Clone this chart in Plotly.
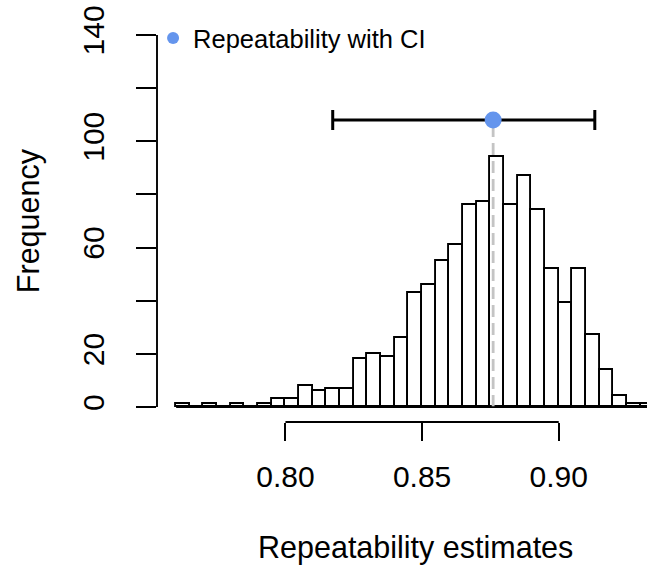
import plotly.graph_objects as go

# ---- data ----
bin_left_edges = [0.760, 0.765, 0.770, 0.775, 0.780, 0.785, 0.790, 0.795, 0.800, 0.805,
                  0.810, 0.815, 0.820, 0.825, 0.830, 0.835, 0.840, 0.845, 0.850, 0.855,
                  0.860, 0.865, 0.870, 0.875, 0.880, 0.885, 0.890, 0.895, 0.900, 0.905,
                  0.910, 0.915, 0.920, 0.925, 0.930]
bin_width = 0.005
counts = [1, 0, 1, 0, 1, 0, 1, 3, 3, 8,
          6, 7, 7, 18, 20, 19, 26, 43, 46, 55,
          61, 76, 77, 94, 76, 87, 74, 52, 39, 52,
          27, 14, 4, 1, 1]

estimate = 0.876
ci_lower = 0.8173
ci_upper = 0.9132
point_height = 108

x_tick_values = [0.80, 0.85, 0.90]
x_tick_labels = ["0.80", "0.85", "0.90"]
y_tick_values = [0, 20, 40, 60, 80, 100, 120, 140]
y_tick_labels = ["0", "20", "", "60", "", "100", "", "140"]

x_title = "Repeatability estimates"
y_title = "Frequency"
legend_label = "Repeatability with CI"

# ---- figure ----
FONT = "Liberation Sans, Arial, Helvetica, sans-serif"
bin_centers = [e + bin_width / 2 for e in bin_left_edges]

fig = go.Figure()

fig.add_trace(go.Bar(
    x=bin_centers, y=counts, width=bin_width,
    marker=dict(color="white", line=dict(color="black", width=1.9)),
    showlegend=False, hoverinfo="skip",
))

fig.add_trace(go.Scatter(
    x=[estimate, estimate], y=[0, point_height], mode="lines",
    line=dict(color="#C4C4C4", width=2.8, dash="12px,6px"),
    showlegend=False, hoverinfo="skip",
))

fig.add_trace(go.Scatter(
    x=[estimate], y=[point_height], mode="markers",
    marker=dict(color="#6495ED", size=17),
    error_x=dict(type="data", symmetric=False,
                 array=[ci_upper - estimate], arrayminus=[estimate - ci_lower],
                 color="black", thickness=3, width=10),
    name=legend_label, showlegend=True,
))

# baseline of histogram (zero-count bins drawn flat, as in base R)
fig.add_shape(type="line", xref="x", yref="y",
              x0=bin_left_edges[0], x1=bin_left_edges[-1] + bin_width, y0=0, y1=0,
              line=dict(color="black", width=1.9), layer="above")

# R-style axis lines spanning first to last tick
fig.add_shape(type="line", xref="x", yref="paper",
              x0=x_tick_values[0], x1=x_tick_values[-1], y0=0, y1=0,
              line=dict(color="black", width=1.9))
fig.add_shape(type="line", xref="paper", yref="y",
              x0=0, x1=0, y0=y_tick_values[0], y1=y_tick_values[-1],
              line=dict(color="black", width=1.9))

fig.add_annotation(text=x_title, xref="paper", yref="paper",
                   x=0.5276, y=-0.311, xanchor="center", yanchor="middle",
                   showarrow=False, font=dict(family=FONT, size=30.5, color="black"))
fig.add_annotation(text=y_title, xref="paper", yref="paper",
                   x=-0.263, y=0.50, xanchor="center", yanchor="middle", textangle=-90,
                   showarrow=False, font=dict(family=FONT, size=30.5, color="black"))

fig.update_layout(
    width=647, height=576,
    margin=dict(l=157, r=0, t=20, b=154, autoexpand=False),
    paper_bgcolor="white", plot_bgcolor="white",
    font=dict(family=FONT, color="black"),
    bargap=0,
    legend=dict(x=-0.008, y=1.0124, xanchor="left", yanchor="top",
                bgcolor="rgba(0,0,0,0)", borderwidth=0, itemsizing="constant",
                font=dict(family=FONT, size=25.5, color="black")),
    xaxis=dict(range=[0.753, 0.9323], tickvals=x_tick_values, ticktext=x_tick_labels,
               ticks="outside", ticklen=18, tickwidth=1.9, tickcolor="black",
               showline=False, showgrid=False, zeroline=False,
               tickfont=dict(family=FONT, size=30, color="black"),
               ticklabelstandoff=10),
    yaxis=dict(range=[-5.6, 145.6], tickvals=y_tick_values, ticktext=y_tick_labels,
               ticks="outside", ticklen=19.6, tickwidth=1.9, tickcolor="black",
               showline=False, showgrid=False, zeroline=False, tickangle=-90,
               tickfont=dict(family=FONT, size=30, color="black"),
               ticklabelstandoff=20),
)

fig.write_html("out.html", config={"displayModeBar": False},
               post_script="document.body.style.margin='0';")
